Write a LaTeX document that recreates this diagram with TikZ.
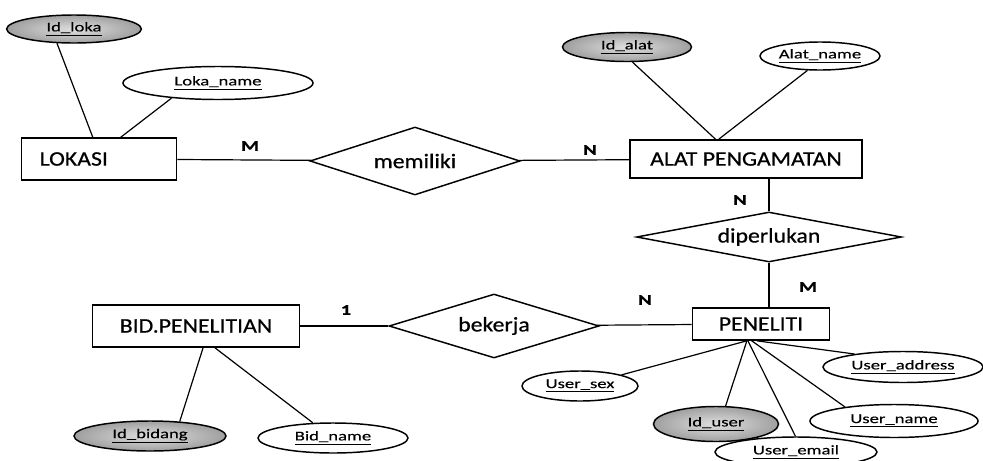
\documentclass[tikz,border=0pt]{standalone}
\usepackage{fontspec}
\setmainfont{Carlito}
\newfontfamily\entfont[FakeStretch=1.15, FakeBold=0.6]{Carlito}
\newfontfamily\attfont[FakeStretch=1.4, FakeBold=0.4]{Carlito}
\usetikzlibrary{shapes.geometric}

\begin{document}
\begin{tikzpicture}[
  x=0.75pt, y=-0.75pt,
  entity/.style={rectangle, draw, line width=1.2pt, inner sep=0pt, font=\entfont\fontsize{15.5}{18}\selectfont},
  relation/.style={diamond, draw, line width=1.1pt, inner sep=0pt, aspect=4, font=\entfont\fontsize{15.5}{18}\selectfont},
  attr/.style={ellipse, draw, line width=1.1pt, inner sep=0pt, font=\attfont\fontsize{10}{12}\selectfont},
  keyattr/.style={attr, inner color=gray!25, outer color=gray!75},
  card/.style={font=\attfont\bfseries\fontsize{11}{13}\selectfont},
  link/.style={draw, line width=0.9pt}
]
\useasboundingbox (0,0) rectangle (983,461);

% entities
\node[entity, minimum width=116.25pt, minimum height=31.5pt, text width=89pt, align=left] (lokasi) at (99,159) {LOKASI};
\node[entity, minimum width=174pt, minimum height=28.5pt] (alat) at (746,159) {ALAT PENGAMATAN};
\node[entity, minimum width=155.25pt, minimum height=31.5pt] (bid) at (196,326) {BID.PENELITIAN};
\node[entity, minimum width=102.75pt, minimum height=24pt] (peneliti) at (761,324) {PENELITI};

% relationships
\node[relation, minimum width=157.5pt, minimum height=51pt] (memiliki) at (415,161) {memiliki};
\node[relation, minimum width=198.75pt, minimum height=37.5pt] (diperlukan) at (769,237) {diperlukan};
\node[relation, minimum width=157.5pt, minimum height=48pt] (bekerja) at (494,326) {bekerja};

% attributes
\node[keyattr, minimum width=101pt, minimum height=21pt] (idloka) at (74,29) {\underline{Id\_loka}};
\node[attr, minimum width=142.5pt, minimum height=24.75pt] (lokaname) at (218,83) {\underline{Loka\_name}};
\node[keyattr, minimum width=96.75pt, minimum height=21.75pt] (idalat) at (627,47) {\underline{Id\_alat}};
\node[attr, minimum width=90pt, minimum height=21pt] (alatname) at (820,56) {\underline{Alat\_name}};
\node[keyattr, minimum width=114pt, minimum height=22.5pt] (idbidang) at (150,436) {\underline{Id\_bidang}};
\node[attr, minimum width=112.5pt, minimum height=22.5pt] (bidname) at (333,438) {\underline{Bid\_name}};
\node[attr, minimum width=87pt, minimum height=22.5pt] (usersex) at (580,386) {\underline{User\_sex}};
\node[keyattr, minimum width=93.75pt, minimum height=26.25pt] (iduser) at (716,424) {\underline{Id\_user}};
\node[attr, minimum width=121.5pt, minimum height=22.5pt] (useremail) at (796,452) {\underline{User\_email}};
\node[attr, minimum width=126pt, minimum height=24.75pt] (username) at (894,421) {\underline{User\_name}};
\node[attr, minimum width=120pt, minimum height=23.25pt] (useraddr) at (903,367) {\underline{User\_address}};

% cardinalities
\node[card] (mlok) at (250,146) {M};
\node[card] (nalat) at (590,150) {N};
\node[card] (nalat2) at (740,200) {N};
\node[card] (mpen) at (808,287) {M};
\node[card] (npen) at (645,300) {N};
\node[card] (onebid) at (346,310) {1};

% connectors
\draw[link] (idloka.220) -- (lokasi.106);
\draw[link] (lokaname.198) -- (lokasi.45);
\draw[link] (lokasi) -- (memiliki);
\draw[link] (memiliki) -- (alat);
\draw[link] (idalat.290) -- (alat.147);
\draw[link] (alatname.229) -- (alat.144);
\draw[link] (diperlukan.north) -- (diperlukan.north |- alat.south);
\draw[link] (diperlukan.south) -- (diperlukan.south |- peneliti.north);
\draw[link] (bid) -- (bekerja);
\draw[link] (bekerja) -- (peneliti);
\draw[link] (bid.288) -- (idbidang.26);
\draw[link] (bid.311) -- (bidname.143);
\draw[link] (peneliti.230) -- (usersex.15);
\draw[link] (peneliti.230) -- (iduser.62);
\draw[link] (peneliti.232) -- (useremail.92);
\draw[link] (peneliti.241) -- (username.164);
\draw[link] (peneliti.256) -- (useraddr.165);
\end{tikzpicture}
\end{document}
